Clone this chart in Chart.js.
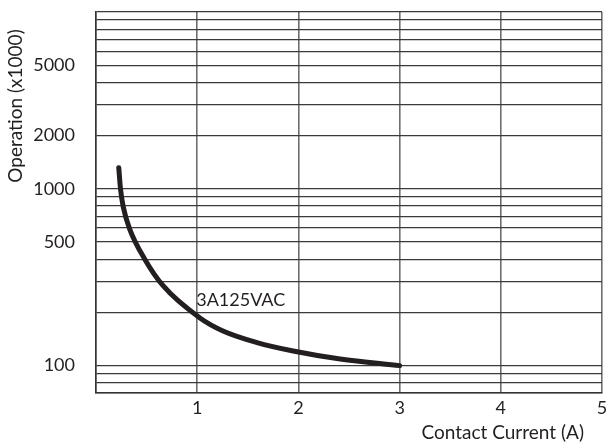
<!DOCTYPE html>
<html>
<head>
<meta charset="utf-8">
<title>Contact current vs operations</title>
<script src="https://cdn.jsdelivr.net/npm/chart.js@4.4.1/dist/chart.umd.min.js"></script>
<style>
  html, body { margin: 0; padding: 0; background: #fff; overflow: hidden; }
  #wrap { width: 607px; height: 444px; }
</style>
</head>
<body>
<div id="wrap"><canvas id="lifeChart"></canvas></div>
<script>
// Electrical life curve
const currentA = [0.225, 0.242, 0.269, 0.334, 0.482, 0.663, 1.027, 1.255, 1.591, 1.948, 2.413, 3.0];
const operations = [1315, 1000, 791, 590, 400, 283, 186, 157, 135, 121, 109, 100];

const curveLabel = '3A125VAC';
const curveLabelAt = { x: 0.99, y: 235 };  // in data units

const xTickValues = [0, 1, 2, 3, 4, 5];
const yGridValues = [70, 80, 90, 100, 200, 300, 400, 500, 600, 700, 800, 900,
    1000, 2000, 3000, 4000, 5000, 6000, 7000, 8000, 9000, 10000];
const yLabelValues = [100, 500, 1000, 2000, 5000];

const xTitle = 'Contact Current (A)';
const yTitle = 'Operation (x1000)';

const inkColor = '#231f20';
const fontFamily = 'Lato, "Open Sans", sans-serif';

// titles and the curve label are drawn by hand so they sit where the sheet has them
const sheetText = {
    id: 'sheetText',
    afterDatasetsDraw(chart) {
        const { ctx, chartArea, scales } = chart;
        ctx.save();
        ctx.fillStyle = inkColor;
        ctx.textBaseline = 'middle';

        ctx.font = '18px ' + fontFamily;
        ctx.textAlign = 'left';
        ctx.fillText(curveLabel,
            scales.x.getPixelForValue(curveLabelAt.x),
            scales.y.getPixelForValue(curveLabelAt.y));

        ctx.font = '19px ' + fontFamily;
        ctx.textAlign = 'right';
        ctx.fillText(xTitle, chartArea.right - 18, 433);

        ctx.translate(16, 106);
        ctx.rotate(-Math.PI / 2);
        ctx.textAlign = 'center';
        ctx.fillText(yTitle, 0, 0);
        ctx.restore();
    }
};

const ctx = document.getElementById('lifeChart').getContext('2d');
new Chart(ctx, {
    type: 'line',
    data: {
        datasets: [{
            data: currentA.map((x, i) => ({ x: x, y: operations[i] })),
            borderColor: inkColor,
            borderWidth: 5,
            borderCapStyle: 'round',
            borderJoinStyle: 'round',
            pointRadius: 0,
            fill: false,
            cubicInterpolationMode: 'monotone'
        }]
    },
    options: {
        responsive: true,
        maintainAspectRatio: false,
        animation: false,
        layout: { padding: { top: 12, left: 0, right: 5, bottom: 0 } },
        plugins: {
            legend: { display: false },
            tooltip: { enabled: false }
        },
        scales: {
            x: {
                type: 'linear',
                min: 0,
                max: 5,
                afterBuildTicks: scale => {
                    scale.ticks = xTickValues.map(v => ({ value: v }));
                },
                afterFit: scale => {
                    scale.height = 51;
                    scale.paddingLeft = 0;
                    scale.paddingRight = 0;
                },
                ticks: {
                    color: inkColor,
                    font: { family: fontFamily, size: 18 },
                    padding: 4,
                    maxRotation: 0,
                    callback: v => (v === 0 ? '' : String(v))
                },
                grid: { color: '#6e6e6e', lineWidth: 1.6, drawTicks: false },
                border: { color: '#333', width: 1.5 }
            },
            y: {
                type: 'logarithmic',
                min: 70,
                max: 10000,
                afterBuildTicks: scale => {
                    scale.ticks = yGridValues.map(v => ({ value: v }));
                },
                afterFit: scale => {
                    scale.width = 96;
                    scale.paddingTop = 0;
                    scale.paddingBottom = 0;
                },
                ticks: {
                    color: inkColor,
                    font: { family: fontFamily, size: 18 },
                    padding: 21,
                    autoSkip: false,
                    callback: v => (yLabelValues.includes(v) ? String(v) : '')
                },
                grid: { color: '#3a3a3a', lineWidth: 1.2, drawTicks: false },
                border: { color: '#333', width: 1.5 }
            }
        }
    },
    plugins: [sheetText]
});
</script>
</body>
</html>
